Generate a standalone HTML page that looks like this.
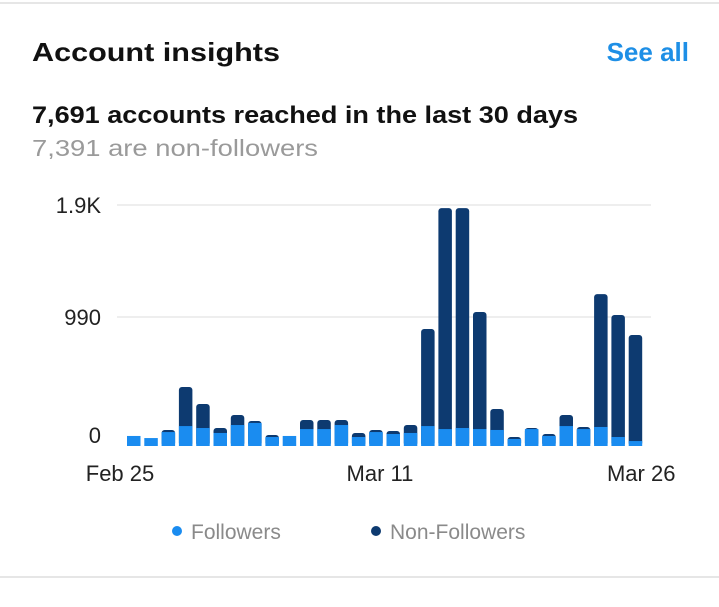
<!DOCTYPE html>
<html><head><meta charset="utf-8"><style>
html,body{margin:0;padding:0;background:#fff;width:719px;height:607px;overflow:hidden}
svg{display:block;font-family:"Liberation Sans",Arial,sans-serif}
</style></head><body>
<svg id="c" width="719" height="607">
<line x1="0" y1="3" x2="719" y2="3" stroke="#e6e6e6" stroke-width="2"/>
<line x1="0" y1="577" x2="719" y2="577" stroke="#e6e6e6" stroke-width="2"/>
<text x="32" y="61" font-size="26" font-weight="bold" fill="#111" textLength="248" lengthAdjust="spacingAndGlyphs">Account insights</text>
<text x="689" y="61" font-size="26" font-weight="bold" fill="#1e8fe6" text-anchor="end">See all</text>
<text x="32" y="123" font-size="24" font-weight="bold" fill="#111" textLength="546" lengthAdjust="spacingAndGlyphs">7,691 accounts reached in the last 30 days</text>
<text x="32" y="156" font-size="23" fill="#9a9a9a" textLength="286" lengthAdjust="spacingAndGlyphs">7,391 are non-followers</text>
<g id="chart"></g>
<g>
<circle cx="177" cy="531" r="5" fill="#1a8cf0"/>
<text x="191" y="539" font-size="21" fill="#8a8a8a">Followers</text>
<circle cx="376" cy="531" r="5" fill="#0d3a70"/>
<text x="390" y="539" font-size="21" fill="#8a8a8a">Non-Followers</text>
</g>
</svg>
<script>
const followers=[77,61,107,153,138,100,161,177,69,77,130,130,161,69,107,92,100,153,130,138,130,123,54,130,77,153,130,146,69,38];
const nonFollowers=[0,0,16,300,184,38,77,15,15,0,70,70,39,31,16,23,61,745,1696,1688,898,161,15,8,15,85,16,1020,936,814];
const tickValues=[0,990,1850];
const tickLabels=['0','990','1.9K'];
const xLabels=['Feb 25','Mar 11','Mar 26'];
const xLabelIdx=[0,14,29];
const NS='http://www.w3.org/2000/svg';
const g=document.getElementById('chart');
const y0=446,pxPer=129/990;
const y=v=>y0-v*pxPer;
const x=i=>127+i*17.3;
const bw=13.5;
function mk(t,a){const e=document.createElementNS(NS,t);for(const k in a)e.setAttribute(k,a[k]);g.appendChild(e);return e;}
tickValues.forEach((v,i)=>{
 if(v>0){const l=mk('line',{x1:117,x2:651,y1:y(v),y2:y(v),stroke:'#e8e8e8','stroke-width':1.5});
 
 }
 const t=mk('text',{x:101,y:v>0?y(v)+8:y(v)-3,'font-size':22,fill:'#222','text-anchor':'end'});
 t.textContent=tickLabels[i];
 
 
});
followers.forEach((f,i)=>{
 const tot=f+nonFollowers[i];
 if(nonFollowers[i]>0){
  const d=mk('rect',{x:x(i),y:y(tot),width:bw,height:y0-y(tot),rx:3,fill:'#0d3a70'});
  
  
 }
 const b=mk('rect',{x:x(i),y:y(f),width:bw,height:y0-y(f),fill:'#1a8cf0'});
 
 
});
const anchors=['start','middle','end'];
const offs=[-48,4,40];
xLabels.forEach((s,i)=>{
 const t=mk('text',{x:x(xLabelIdx[i])+bw/2+offs[i],y:481,'font-size':22,fill:'#222','text-anchor':anchors[i]});
 t.textContent=s;
 
 
});
</script>
</body></html>
